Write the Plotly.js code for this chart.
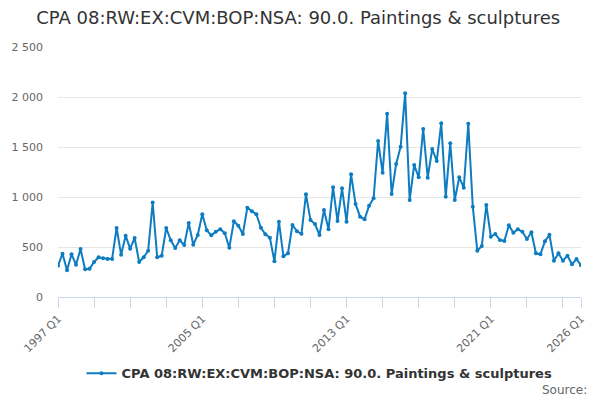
<!DOCTYPE html>
<html>
<head>
<meta charset="utf-8">
<script src="https://cdn.plot.ly/plotly-3.0.1.min.js"></script>
<style>html,body{margin:0;padding:0;background:#fff;}#chart{width:600px;height:400px;}</style>
</head>
<body>
<div id="chart"></div>
<script>
var startYear = 1997;
var seriesName = "CPA 08:RW:EX:CVM:BOP:NSA: 90.0. Paintings & sculptures";
var values = [
  313, 433, 267, 427, 323, 480, 277, 283, 350, 397,
  387, 380, 380, 690, 423, 613, 483, 590, 350, 397,
  463, 945, 397, 413, 690, 567, 490, 567, 520, 740,
  523, 620, 827, 667, 617, 653, 677, 637, 493, 757,
  713, 630, 893, 857, 827, 693, 627, 593, 357, 753,
  407, 437, 720, 657, 632, 1027, 770, 730, 620, 870,
  677, 1097, 760, 1087, 753, 1227, 930, 803, 777, 913,
  987, 1560, 1243, 1833, 1030, 1330, 1503, 2037, 970, 1320,
  1197, 1680, 1193, 1480, 1360, 1737, 1003, 1537, 970, 1197,
  1093, 1733, 903, 463, 510, 920, 603, 630, 570, 560,
  717, 643, 677, 653, 580, 647, 437, 427, 557, 623,
  363, 437, 363, 413, 327, 380, 317
];
var quarters = [];
for (var i = 0; i < values.length; i++) {
  quarters.push((startYear + Math.floor(i / 4)) + " Q" + (i % 4 + 1));
}
var labeledTicks = ["1997 Q1", "2005 Q1", "2013 Q1", "2021 Q1", "2026 Q1"];
var tickVals = [];
var tickText = [];
for (var j = 0; j < quarters.length; j++) {
  if (j % 8 === 0 || j === quarters.length - 1) {
    tickVals.push(quarters[j]);
    tickText.push(labeledTicks.indexOf(quarters[j]) >= 0 ? quarters[j] : "");
  }
}
var font = "DejaVu Sans, Verdana, sans-serif";
var trace = {
  x: quarters,
  y: values,
  type: "scatter",
  mode: "lines+markers",
  name: seriesName,
  line: {color: "#0d7cc1", width: 2},
  marker: {color: "#0d7cc1", size: 4}
};
var layout = {
  width: 600, height: 400,
  margin: {l: 58, r: 19, t: 47, b: 103},
  paper_bgcolor: "#fff", plot_bgcolor: "#fff",
  separators: ". ",
  font: {family: font, color: "#666"},
  title: {text: "CPA 08:RW:EX:CVM:BOP:NSA: 90.0. Paintings & sculptures",
          font: {family: font, size: 18, color: "#333"},
          x: 0.497, xanchor: "center", y: 0.955, yanchor: "middle"},
  xaxis: {
    type: "category",
    range: [0, quarters.length - 1],
    tickmode: "array", tickvals: tickVals, ticktext: tickText,
    tickangle: -45,
    ticks: "outside", ticklen: 10, tickcolor: "#ccd6eb", tickwidth: 1,
    showline: true, linecolor: "#ccd6eb", linewidth: 1,
    showgrid: false, zeroline: false,
    tickfont: {family: font, size: 11, color: "#666"}
  },
  yaxis: {
    range: [0, 2500],
    tickvals: [0, 500, 1000, 1500, 2000, 2500],
    tickformat: ",d",
    showgrid: true, gridcolor: "#e6e6e6", gridwidth: 1,
    zeroline: false, showline: false,
    ticks: "", ticklabelstandoff: 14,
    tickfont: {family: font, size: 11, color: "#666"}
  },
  showlegend: true,
  legend: {
    orientation: "h", x: 0.5, xanchor: "center", y: -0.305, yanchor: "middle",
    font: {family: font, size: 13, color: "#333", weight: "bold"}
  },
  annotations: [{
    text: "Source:", xref: "paper", yref: "paper",
    x: 1.015, xanchor: "right", y: -0.37, yanchor: "middle",
    showarrow: false, font: {family: font, size: 12, color: "#666"}
  }]
};
Plotly.newPlot("chart", [trace], layout, {displayModeBar: false, staticPlot: true});
</script>
</body>
</html>
